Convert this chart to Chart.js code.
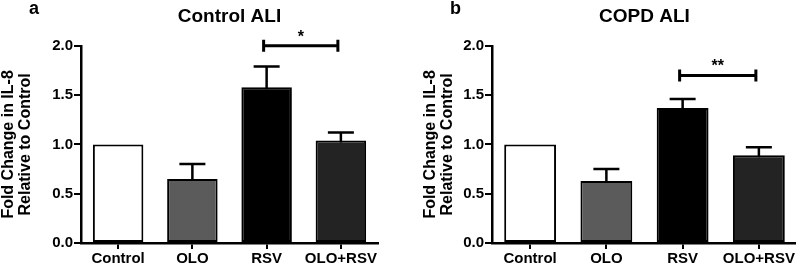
<!DOCTYPE html>
<html>
<head>
<meta charset="utf-8">
<script src="https://cdn.jsdelivr.net/npm/chart.js@4.4.1/dist/chart.umd.min.js"></script>
<style>
  body { margin: 0; background: #fff; }
  #wrap { position: relative; width: 796px; height: 264px; overflow: hidden; }
  .panel { position: absolute; top: 0; height: 264px; }
  .letter { position: absolute; top: -1px; font: bold 18px "Liberation Sans", Arial, sans-serif; line-height: 18px; color: #000; }
</style>
</head>
<body>
<div id="wrap">
  <div class="panel" style="left:0;width:382px"><canvas id="chartA"></canvas></div>
  <div class="panel" style="left:418px;width:380px"><canvas id="chartB"></canvas></div>
  <div class="letter" style="left:29px">a</div>
  <div class="letter" style="left:450px">b</div>
</div>
<script>
const categories = ["Control", "OLO", "RSV", "OLO+RSV"];
const barColors = ["#ffffff", "#5b5b5b", "#000000", "#232323"];

const controlMeans = [1.0, 0.65, 1.58, 1.04];
const controlErrors = [0, 0.15, 0.21, 0.08];
const controlBracket = { from: 2, to: 3, y: 2.0, label: "*" };

const copdMeans = [1.0, 0.63, 1.37, 0.89];
const copdErrors = [0, 0.12, 0.09, 0.08];
const copdBracket = { from: 2, to: 3, y: 1.70, label: "**" };

const yTicks = [0, 0.5, 1.0, 1.5, 2.0];

Chart.defaults.font.family = '"Liberation Sans", Arial, sans-serif';
Chart.defaults.color = "#000";

// draws the upper error bars and the significance bracket
const extrasPlugin = {
  id: "extras",
  afterDatasetsDraw(chart, args, opts) {
    const ctx = chart.ctx;
    const x = chart.scales.x;
    const y = chart.scales.y;
    const means = chart.data.datasets[0].data;

    ctx.save();
    ctx.strokeStyle = "#000";
    ctx.lineWidth = 2.5;
    for (let i = 0; i < means.length; i++) {
      if (!opts.errors[i]) continue;
      let cx = x.getPixelForValue(i);
      let top = y.getPixelForValue(means[i] + opts.errors[i]);
      let base = y.getPixelForValue(means[i]);
      ctx.beginPath();
      ctx.moveTo(cx, base + 2);
      ctx.lineTo(cx, top);
      ctx.moveTo(cx - 13, top);
      ctx.lineTo(cx + 13, top);
      ctx.stroke();
    }

    let b = opts.bracket;
    let x1 = x.getPixelForValue(b.from) - 3;
    let x2 = x.getPixelForValue(b.to) - 3;
    let by = y.getPixelForValue(b.y);
    ctx.lineWidth = 3;
    ctx.beginPath();
    ctx.moveTo(x1, by);
    ctx.lineTo(x2, by);
    ctx.moveTo(x1, by - 6);
    ctx.lineTo(x1, by + 6);
    ctx.moveTo(x2, by - 6);
    ctx.lineTo(x2, by + 6);
    ctx.stroke();

    ctx.fillStyle = "#000";
    ctx.font = 'bold 16px "Liberation Sans", Arial, sans-serif';
    ctx.textAlign = "center";
    ctx.textBaseline = "alphabetic";
    ctx.fillText(b.label, (x1 + x2) / 2, by - 4);
    ctx.restore();
  },
};

function makeChart(canvasId, title, means, errors, bracket, yWidth, titlePad, padRight) {
  return new Chart(document.getElementById(canvasId), {
    type: "bar",
    data: {
      labels: categories,
      datasets: [
        {
          data: means,
          backgroundColor: barColors,
          borderColor: "#000",
          borderWidth: 2,
          borderSkipped: false,
          categoryPercentage: 1.0,
          barPercentage: 0.68,
        },
      ],
    },
    options: {
      responsive: true,
      maintainAspectRatio: false,
      animation: false,
      layout: { padding: { left: 0, right: padRight, top: 0, bottom: 0 } },
      plugins: {
        legend: { display: false },
        tooltip: { enabled: false },
        title: {
          display: true,
          text: title,
          fullSize: false,
          font: { size: 19, weight: "bold" },
          padding: { top: 5, bottom: 18 },
        },
        extras: { errors: errors, bracket: bracket },
      },
      scales: {
        x: {
          offset: true,
          grid: { display: true, offset: false, drawOnChartArea: false, drawTicks: true, tickLength: 6, color: "#000", lineWidth: 2 },
          border: { color: "#000", width: 2.5 },
          ticks: { font: { size: 15, weight: "bold" }, padding: 1, maxRotation: 0, autoSkip: false },
          afterFit(scale) { scale.height = 21; },
        },
        y: {
          min: 0,
          max: 2,
          afterBuildTicks(scale) { scale.ticks = yTicks.map((v) => ({ value: v })); },
          grid: { display: true, drawOnChartArea: false, drawTicks: true, tickLength: 7, color: "#000", lineWidth: 2 },
          border: { color: "#000", width: 2.5 },
          ticks: {
            font: { size: 15, weight: "bold" },
            padding: 1,
            callback: (v) => Number(v).toFixed(1),
          },
          title: {
            display: true,
            text: ["Fold Change in IL-8", "Relative to Control"],
            font: { size: 16, weight: "bold", lineHeight: 1.05 },
            padding: { top: titlePad, bottom: 0 },
          },
          afterFit(scale) { scale.width = yWidth; },
        },
      },
    },
    plugins: [extrasPlugin],
  });
}

makeChart("chartA", "Control ALI", controlMeans, controlErrors, controlBracket, 81, 0, 4);
makeChart("chartB", "COPD ALI", copdMeans, copdErrors, copdBracket, 74, 4, 1);
</script>
</body>
</html>
